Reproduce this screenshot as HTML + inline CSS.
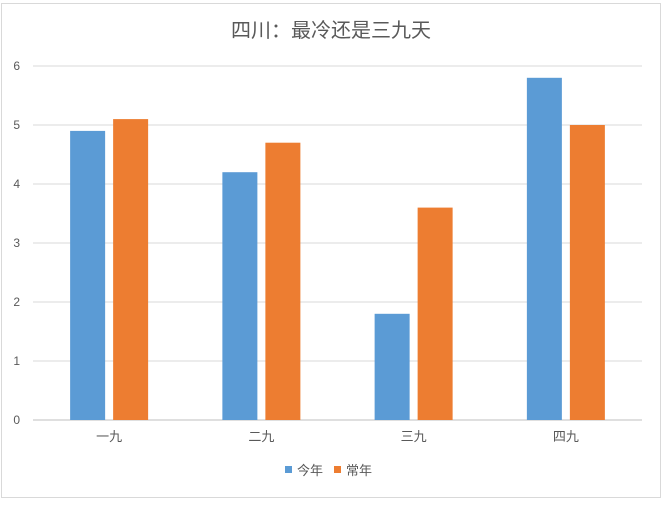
<!DOCTYPE html>
<html><head><meta charset="utf-8"><style>
body{margin:0;background:#fff;font-family:"Liberation Sans","Noto Sans CJK SC",sans-serif;}
svg text{font-family:"Liberation Sans","Noto Sans CJK SC",sans-serif;}
</style></head><body>
<svg id="c" width="662" height="500">
<rect x="1.5" y="3.5" width="659" height="494" fill="#fff" stroke="#d9d9d9"/>
<text x="331" y="37" text-anchor="middle" font-size="20" fill="#595959">四川：最冷还是三九天</text>
<g id="grid"></g><g id="bars"></g><g id="xlab"></g>
<g>
<rect x="285" y="466" width="7" height="7" fill="#5b9bd5"/>
<text x="297" y="475" font-size="13" fill="#595959">今年</text>
<rect x="334" y="466" width="7" height="7" fill="#ed7d31"/>
<text x="346" y="475" font-size="13" fill="#595959">常年</text>
</g>
</svg>
<script>
const categories=["一九","二九","三九","四九"];
const thisYear=[4.9,4.2,1.8,5.8];
const normalYear=[5.1,4.7,3.6,5.0];
const yTicks=[0,1,2,3,4,5,6];
const NS="http://www.w3.org/2000/svg";
const L=33,R=642,T=66,B=420,yMax=6;
const y=v=>B-(B-T)*v/yMax;
const cw=(R-L)/categories.length;
const bw=35,gap=8;
function mk(tag,attrs,parent){const e=document.createElementNS(NS,tag);for(const k in attrs)e.setAttribute(k,attrs[k]);parent.appendChild(e);return e;}
const grid=document.getElementById('grid'),bars=document.getElementById('bars'),xl=document.getElementById('xlab');
yTicks.forEach(t=>{
 const ln=mk('line',{x1:L,x2:R,y1:y(t),y2:y(t),stroke:t===0?'#bfbfbf':'#d9d9d9','stroke-width':1},grid);
 
 
 const tx=mk('text',{x:20,y:y(t)+4,'text-anchor':'end','font-size':12,fill:'#595959'},grid);
 tx.textContent=t;
 
 
});
categories.forEach((c,i)=>{
 const cx=L+cw*(i+0.5);
 const b1=mk('rect',{x:cx-gap/2-bw,y:y(thisYear[i]),width:bw,height:B-y(thisYear[i]),fill:'#5b9bd5'},bars);
 
 
 const b2=mk('rect',{x:cx+gap/2,y:y(normalYear[i]),width:bw,height:B-y(normalYear[i]),fill:'#ed7d31'},bars);
 
 
 const t=mk('text',{x:cx,y:441,'text-anchor':'middle','font-size':13,fill:'#595959'},xl);
 t.textContent=c;
 
 
});
</script>
</body></html>
